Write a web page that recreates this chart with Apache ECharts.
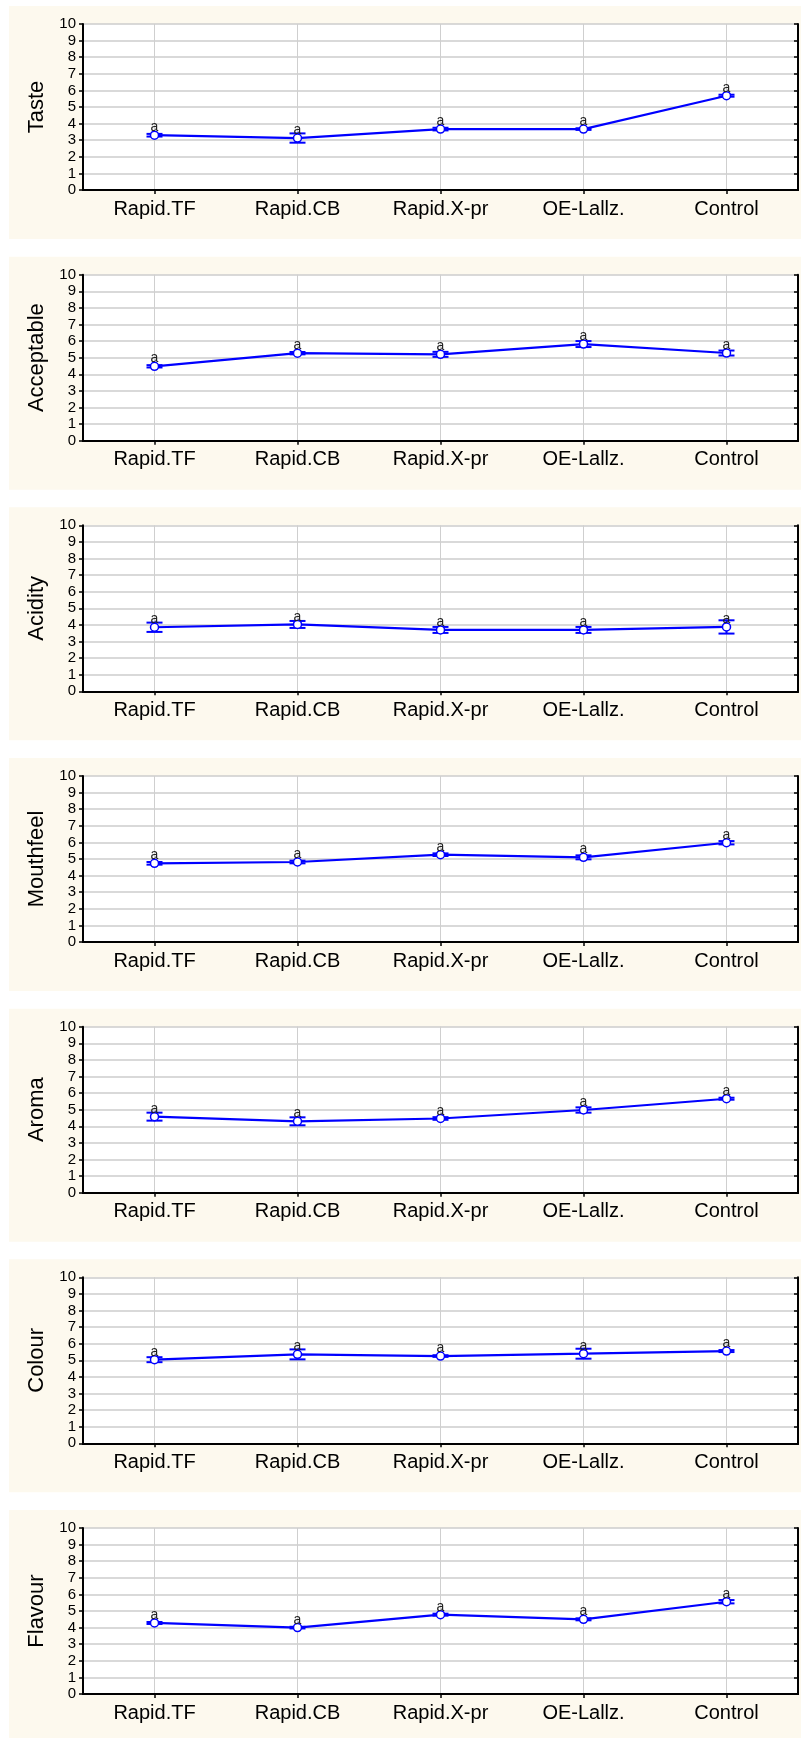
<!DOCTYPE html>
<html>
<head>
<meta charset="utf-8">
<title>Sensory attributes by treatment</title>
<script src="https://cdn.jsdelivr.net/npm/echarts@6/dist/echarts.min.js"></script>
<style>
  html, body { margin: 0; padding: 0; background: #ffffff; }
  #chart { width: 801px; height: 1738px; }
</style>
</head>
<body>
<div id="chart"></div>
<script>
// Treatments on the x axis
var categories = ['Rapid.TF', 'Rapid.CB', 'Rapid.X-pr', 'OE-Lallz.', 'Control'];

// Sensory attributes, one panel each (top to bottom)
var attributes = ['Taste', 'Acceptable', 'Acidity', 'Mouthfeel', 'Aroma', 'Colour', 'Flavour'];

// Mean scores per attribute
var tasteMean      = [3.30, 3.13, 3.67, 3.67, 5.68];
var acceptableMean = [4.48, 5.27, 5.20, 5.82, 5.28];
var acidityMean    = [3.86, 4.03, 3.70, 3.70, 3.88];
var mouthfeelMean  = [4.74, 4.82, 5.26, 5.10, 5.98];
var aromaMean      = [4.58, 4.30, 4.47, 4.98, 5.66];
var colourMean     = [5.04, 5.36, 5.26, 5.40, 5.56];
var flavourMean    = [4.28, 4.00, 4.78, 4.50, 5.56];

// Half-widths of the error bars
var tasteErr      = [0.08, 0.28, 0.08, 0.05, 0.06];
var acceptableErr = [0.07, 0.07, 0.15, 0.18, 0.15];
var acidityErr    = [0.28, 0.21, 0.18, 0.18, 0.40];
var mouthfeelErr  = [0.08, 0.08, 0.08, 0.12, 0.10];
var aromaErr      = [0.24, 0.24, 0.08, 0.16, 0.06];
var colourErr     = [0.15, 0.30, 0.05, 0.30, 0.06];
var flavourErr    = [0.06, 0.05, 0.06, 0.06, 0.10];

// Homogeneous-group letters above each mean
var groupLetters = ['a', 'a', 'a', 'a', 'a'];

// Value axis ticks
var yTicks = ['0', '1', '2', '3', '4', '5', '6', '7', '8', '9', '10'];

var means = [tasteMean, acceptableMean, acidityMean, mouthfeelMean, aromaMean, colourMean, flavourMean];
var errs  = [tasteErr, acceptableErr, acidityErr, mouthfeelErr, aromaErr, colourErr, flavourErr];

var FONT = '"Liberation Sans", Arial, Helvetica, sans-serif';
var BLUE = '#0000ff';
var PANEL_BG = '#fdf9ee';
var PITCH = 250.67;
var PLOT_LEFT = 83, PLOT_WIDTH = 715, PLOT_TOP = 24, PLOT_HEIGHT = 166;

var grids = [], xAxes = [], yAxes = [], series = [], graphics = [];

attributes.forEach(function (name, i) {
  var off = i * PITCH;

  // Cream panel behind each plot, white plotting area
  graphics.push({
    type: 'rect', z: -100, silent: true,
    shape: { x: 9, y: 6 + off, width: 792, height: 233 },
    style: { fill: PANEL_BG }
  });
  graphics.push({
    type: 'rect', z: -99, silent: true,
    shape: { x: PLOT_LEFT, y: PLOT_TOP + off, width: PLOT_WIDTH, height: PLOT_HEIGHT },
    style: { fill: '#ffffff' }
  });

  grids.push({ left: PLOT_LEFT, width: PLOT_WIDTH, top: PLOT_TOP + off, height: PLOT_HEIGHT, containLabel: false });

  // Bottom category axis with labels and vertical grid lines at each treatment
  xAxes.push({
    gridIndex: i, type: 'category', data: categories, position: 'bottom',
    boundaryGap: true,
    axisLine: { show: true, lineStyle: { color: '#000', width: 2 } },
    axisTick: { show: true, alignWithLabel: true, length: 4, inside: false, lineStyle: { color: '#000', width: 1.5 } },
    axisLabel: { show: true, margin: 9, color: '#000', fontSize: 20, fontFamily: FONT },
    splitLine: { show: true, alignWithLabel: true, lineStyle: { color: '#cfcfcf', width: 1 } }
  });
  // Top border with inward ticks
  xAxes.push({
    gridIndex: i, type: 'category', data: categories, position: 'top',
    boundaryGap: true,
    axisLine: { show: true, lineStyle: { color: '#000', width: 2 } },
    axisTick: { show: true, alignWithLabel: true, length: 4, inside: true, lineStyle: { color: '#000', width: 1.5 } },
    axisLabel: { show: false },
    splitLine: { show: false }
  });

  // Left value axis with labels and horizontal grid lines
  yAxes.push({
    gridIndex: i, type: 'value', min: 0, max: 10, interval: 1, position: 'left',
    name: name, nameLocation: 'middle', nameGap: 35,
    nameTextStyle: { color: '#000', fontSize: 22, fontFamily: FONT },
    axisLine: { show: true, lineStyle: { color: '#000', width: 2 } },
    axisTick: { show: true, length: 4, inside: false, lineStyle: { color: '#000', width: 1.5 } },
    axisLabel: {
      show: true, margin: 7, color: '#000', fontSize: 15, fontFamily: FONT,
      formatter: function (v) { return yTicks[Math.round(v)]; }
    },
    splitLine: { show: true, lineStyle: { color: '#cdcdcd', width: 1.5 } }
  });
  // Right border with inward ticks
  yAxes.push({
    gridIndex: i, type: 'value', min: 0, max: 10, interval: 1, position: 'right',
    axisLine: { show: true, lineStyle: { color: '#000', width: 2 } },
    axisTick: { show: true, length: 4, inside: true, lineStyle: { color: '#000', width: 1.5 } },
    axisLabel: { show: false },
    splitLine: { show: false }
  });

  // Error bars: [category index, lower, upper]
  var barData = means[i].map(function (m, k) {
    return [k, m - errs[i][k], m + errs[i][k]];
  });
  series.push({
    type: 'custom', xAxisIndex: 2 * i, yAxisIndex: 2 * i, z: 2, silent: true,
    data: barData,
    encode: { x: 0, y: [1, 2] },
    renderItem: function (params, api) {
      var lo = api.coord([api.value(0), api.value(1)]);
      var hi = api.coord([api.value(0), api.value(2)]);
      var hw = 8;
      var st = { stroke: BLUE, lineWidth: 2 };
      return {
        type: 'group',
        children: [
          { type: 'line', shape: { x1: lo[0], y1: lo[1], x2: hi[0], y2: hi[1] }, style: st },
          { type: 'line', shape: { x1: lo[0] - hw, y1: lo[1], x2: lo[0] + hw, y2: lo[1] }, style: st },
          { type: 'line', shape: { x1: hi[0] - hw, y1: hi[1], x2: hi[0] + hw, y2: hi[1] }, style: st }
        ]
      };
    }
  });

  // Mean line with hollow markers and group letters
  series.push({
    type: 'line', xAxisIndex: 2 * i, yAxisIndex: 2 * i, z: 3, silent: true,
    data: means[i],
    symbol: 'circle', symbolSize: 8,
    itemStyle: { color: '#ffffff', borderColor: BLUE, borderWidth: 1.5 },
    lineStyle: { color: BLUE, width: 2.2 },
    label: {
      show: true, position: 'top', distance: 0, offset: [0, 4],
      color: '#222', fontSize: 14, fontFamily: FONT,
      formatter: function (p) { return groupLetters[p.dataIndex]; }
    }
  });
});

var chart = echarts.init(document.getElementById('chart'), null, { renderer: 'canvas', width: 801, height: 1738 });
chart.setOption({
  backgroundColor: '#ffffff',
  animation: false,
  graphic: graphics,
  grid: grids,
  xAxis: xAxes,
  yAxis: yAxes,
  series: series
});
</script>
</body>
</html>
